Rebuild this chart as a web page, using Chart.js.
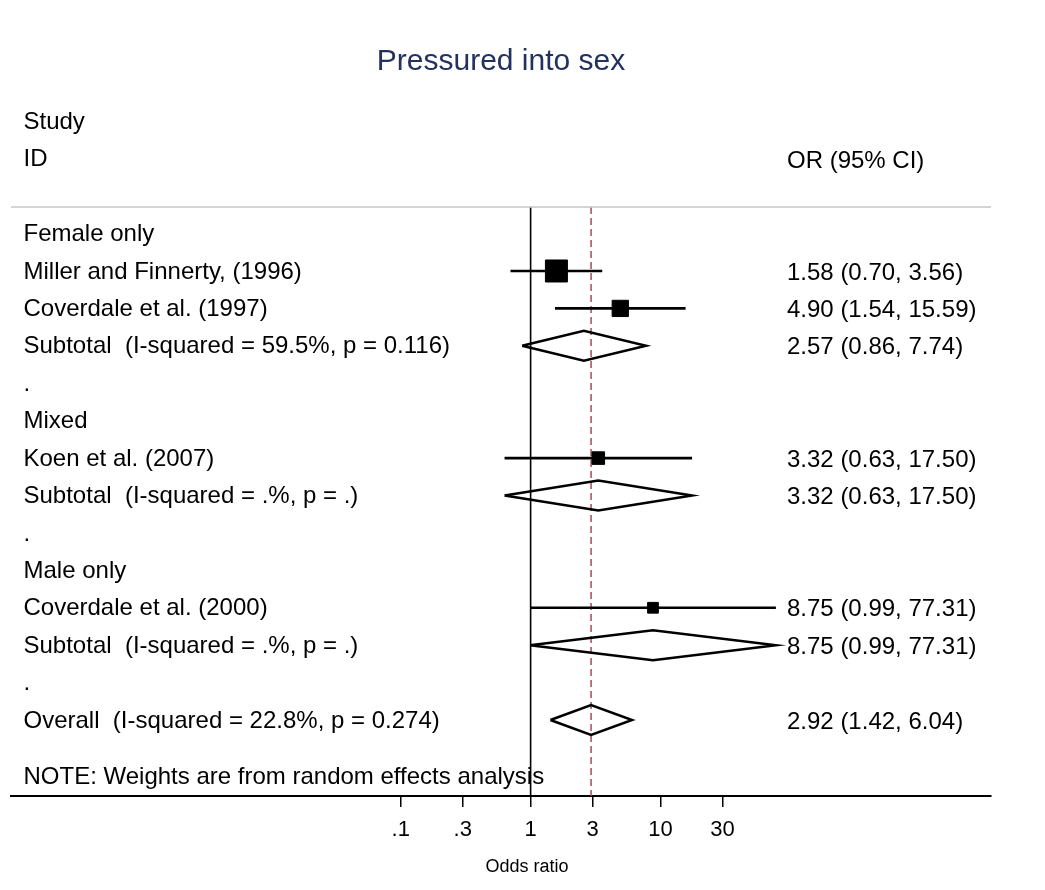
<!DOCTYPE html>
<html>
<head>
<meta charset="utf-8">
<title>Pressured into sex</title>
<script src="https://cdn.jsdelivr.net/npm/chart.js@4/dist/chart.umd.min.js"></script>
<style>
  html, body { margin: 0; padding: 0; background: #fff; }
  #wrap { width: 1045px; height: 890px; }
</style>
</head>
<body>
<div id="wrap"><canvas id="forest" width="1045" height="890"></canvas></div>
<script>
// rows of the forest plot, top to bottom
const rowLabels = [
  'Female only',
  'Miller and Finnerty, (1996)',
  'Coverdale et al. (1997)',
  'Subtotal  (I-squared = 59.5%, p = 0.116)',
  '.',
  'Mixed',
  'Koen et al. (2007)',
  'Subtotal  (I-squared = .%, p = .)',
  '.',
  'Male only',
  'Coverdale et al. (2000)',
  'Subtotal  (I-squared = .%, p = .)',
  '.',
  'Overall  (I-squared = 22.8%, p = 0.274)'
];
const rowKinds = ['group', 'study', 'study', 'subtotal', 'gap', 'group', 'study', 'subtotal', 'gap', 'group', 'study', 'subtotal', 'gap', 'overall'];
const oddsRatios = [null, 1.58, 4.90, 2.57, null, null, 3.32, 3.32, null, null, 8.75, 8.75, null, 2.92];
const ciLow      = [null, 0.70, 1.54, 0.86, null, null, 0.63, 0.63, null, null, 0.99, 0.99, null, 1.42];
const ciHigh     = [null, 3.56, 15.59, 7.74, null, null, 17.50, 17.50, null, null, 77.31, 77.31, null, 6.04];
// approximate weights (%)
const studyWeights = [null, 46, 26, null, null, null, 16, null, null, null, 12, null, null, null];

const axisTicks = [0.1, 0.3, 1, 3, 10, 30];
const axisTickLabels = ['.1', '.3', '1', '3', '10', '30'];

const headerLeft = ['Study', 'ID'];
const headerRight = 'OR (95% CI)';
const noteText = 'NOTE: Weights are from random effects analysis';
const titleText = 'Pressured into sex';
const xTitle = 'Odds ratio';

const FONT = "'Liberation Sans', Arial, Helvetica, sans-serif";
const Y_TOP = -0.71;
const Y_BOTTOM = 15.03;
const DIAMOND_HALF = 0.4;

const fmt = v => v.toFixed(2);
const boxSide = w => 3.39 * Math.sqrt(w) - 1;

const datasets = [];

// weighted boxes
const studyRows = rowKinds.map((k, i) => (k === 'study' ? i : -1)).filter(i => i >= 0);
datasets.push({
  label: 'boxes',
  data: studyRows.map(i => ({ x: oddsRatios[i], y: i })),
  pointStyle: 'rect',
  pointRadius: studyRows.map(i => boxSide(studyWeights[i]) / Math.SQRT2),
  backgroundColor: '#000',
  borderColor: '#000',
  borderWidth: 1,
  showLine: false
});

// confidence intervals
studyRows.forEach(i => {
  datasets.push({
    label: 'ci ' + i,
    data: [{ x: ciLow[i], y: i }, { x: ciHigh[i], y: i }],
    showLine: true,
    pointRadius: 0,
    borderColor: '#000',
    borderWidth: 2.6
  });
});

// pooled diamonds
rowKinds.forEach((k, i) => {
  if (k !== 'subtotal' && k !== 'overall') return;
  datasets.push({
    label: 'diamond ' + i,
    data: [
      { x: ciLow[i], y: i },
      { x: oddsRatios[i], y: i - DIAMOND_HALF },
      { x: ciHigh[i], y: i },
      { x: oddsRatios[i], y: i + DIAMOND_HALF },
      { x: ciLow[i], y: i }
    ],
    showLine: true,
    fill: false,
    pointRadius: 0,
    borderColor: '#000',
    borderWidth: 2.5
  });
});

// null line and overall estimate line
datasets.push({
  label: 'null',
  data: [{ x: 1, y: Y_TOP }, { x: 1, y: Y_BOTTOM }],
  showLine: true,
  pointRadius: 0,
  borderColor: '#000',
  borderWidth: 1.6
});
datasets.push({
  label: 'overall',
  data: [{ x: oddsRatios[13], y: Y_TOP }, { x: oddsRatios[13], y: Y_BOTTOM }],
  showLine: true,
  pointRadius: 0,
  borderColor: '#a34e58',
  borderWidth: 1.5,
  borderDash: [7, 4]
});

const forestText = {
  id: 'forestText',
  afterDraw(chart) {
    const { ctx, chartArea, scales: { y } } = chart;
    ctx.save();

    // grey rule under the header
    ctx.strokeStyle = '#c6c6c6';
    ctx.lineWidth = 1.6;
    ctx.beginPath();
    ctx.moveTo(chartArea.left, chartArea.top);
    ctx.lineTo(chartArea.right, chartArea.top);
    ctx.stroke();

    const leftX = chartArea.left + 12.5;
    const rightX = 787;
    ctx.fillStyle = '#000';
    ctx.textAlign = 'left';
    ctx.textBaseline = 'middle';
    ctx.font = '24px ' + FONT;

    ctx.fillText(headerLeft[0], leftX, y.getPixelForValue(-3) + 1);
    ctx.fillText(headerLeft[1], leftX, y.getPixelForValue(-2) + 1);
    ctx.fillText(headerRight, rightX, y.getPixelForValue(-2) + 3);

    rowLabels.forEach((label, i) => {
      const py = y.getPixelForValue(i) + 1;
      ctx.fillText(label, leftX, py);
      if (oddsRatios[i] !== null) {
        ctx.fillText(fmt(oddsRatios[i]) + ' (' + fmt(ciLow[i]) + ', ' + fmt(ciHigh[i]) + ')', rightX, py + 1);
      }
    });

    ctx.fillText(noteText, leftX, y.getPixelForValue(14.52));

    ctx.textAlign = 'center';
    ctx.font = '18px ' + FONT;
    ctx.fillText(xTitle, 527, 867);
    ctx.restore();
  }
};

new Chart(document.getElementById('forest'), {
  type: 'scatter',
  data: { datasets },
  options: {
    responsive: false,
    animation: false,
    devicePixelRatio: 1,
    events: [],
    layout: { autoPadding: false, padding: { left: 11, right: 54, top: 0, bottom: 0 } },
    plugins: {
      legend: { display: false },
      tooltip: { enabled: false },
      title: {
        display: true,
        text: titleText,
        color: '#22315e',
        font: { family: FONT, size: 30, weight: 'normal' },
        padding: { top: 44, bottom: 127 }
      }
    },
    elements: { line: { tension: 0 } },
    scales: {
      x: {
        type: 'logarithmic',
        position: 'bottom',
        min: 0.0001,
        max: 3500,
        afterBuildTicks: scale => { scale.ticks = axisTicks.map(v => ({ value: v })); },
        afterFit: scale => {
          scale.height = 94;
          scale.paddingLeft = 0;
          scale.paddingRight = 0;
        },
        ticks: {
          autoSkip: false,
          maxRotation: 0,
          color: '#000',
          padding: 10,
          font: { family: FONT, size: 22 },
          callback: (value, index) => axisTickLabels[index]
        },
        grid: {
          display: true,
          drawOnChartArea: false,
          drawTicks: true,
          tickLength: 11,
          color: '#000',
          lineWidth: 1.5
        },
        border: { display: true, color: '#000', width: 2 }
      },
      y: {
        type: 'linear',
        min: Y_TOP,
        max: Y_BOTTOM,
        reverse: true,
        display: false
      }
    }
  },
  plugins: [forestText]
});
</script>
</body>
</html>
